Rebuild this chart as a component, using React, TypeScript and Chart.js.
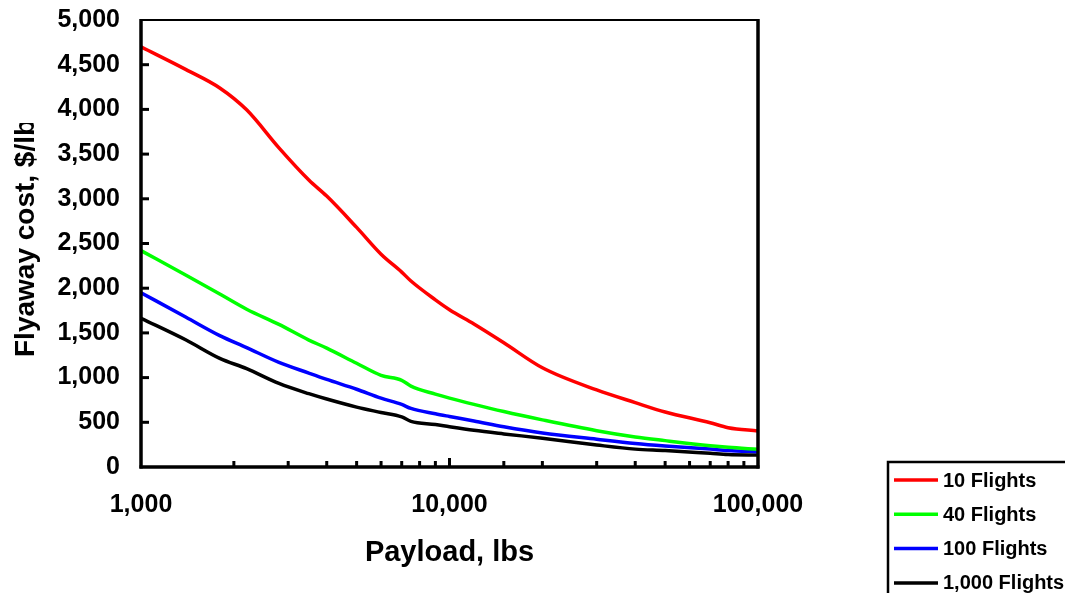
import React, { useEffect, useRef } from 'react';
import { Chart, registerables } from 'chart.js';

Chart.register(...registerables);

// Payload (lbs) sampled along each curve
const payloads = [1000, 1400, 1800, 2200, 2800, 3500, 4000, 5000, 6000, 7000, 7500, 9000, 10000, 12000, 15000, 20000, 30000, 40000, 50000, 70000, 80000, 100000];

// Flyaway cost, $/lb
const flights10 = [4700, 4445, 4240, 3995, 3570, 3210, 3030, 2680, 2380, 2180, 2080, 1870, 1760, 1600, 1390, 1110, 862, 720, 615, 495, 440, 403];
const flights40 = [2420, 2145, 1935, 1765, 1595, 1420, 1330, 1160, 1025, 970, 905, 815, 770, 700, 620, 527, 406, 336, 295, 238, 220, 198];
const flights100 = [1950, 1675, 1470, 1335, 1170, 1050, 980, 870, 770, 700, 655, 595, 565, 515, 450, 380, 310, 263, 235, 200, 185, 171];
const flights1000 = [1664, 1420, 1215, 1100, 935, 820, 760, 670, 610, 560, 510, 475, 450, 410, 370, 322, 246, 200, 185, 153, 140, 134];

const seriesLabels = ['10 Flights', '40 Flights', '100 Flights', '1,000 Flights'];
const seriesValues = [flights10, flights40, flights100, flights1000];
const seriesColors = ['#ff0000', '#00ff00', '#0000ff', '#000000'];

const xLabelValues = [1000, 10000, 100000];
const xTitle = 'Payload, lbs';
const yTitle = 'Flyaway cost, $/lb';

const FONT = "'Liberation Sans', Arial, Helvetica, sans-serif";

const overlayPlugin = {
  id: 'overlay',
  afterDraw(chart: any) {
    const { ctx, chartArea: a, scales } = chart;
    const xs = scales.x;
    const ys = scales.y;
    ctx.save();
    ctx.strokeStyle = '#000';
    ctx.fillStyle = '#000';
    ctx.lineCap = 'butt';

    const line = (x1: number, y1: number, x2: number, y2: number) => {
      ctx.beginPath();
      ctx.moveTo(x1, y1);
      ctx.lineTo(x2, y2);
      ctx.stroke();
    };

    // frame
    ctx.lineWidth = 2;
    line(a.left, a.top, a.right, a.top);
    ctx.lineWidth = 3.5;
    line(a.left, a.top - 1, a.left, a.bottom + 1.5);
    line(a.left - 1.5, a.bottom, a.right + 1.5, a.bottom);
    line(a.right, a.top - 1, a.right, a.bottom + 1.5);

    // inward ticks
    ctx.lineWidth = 3;
    ys.ticks.forEach((t: any) => {
      const py = ys.getPixelForValue(t.value);
      if (t.value > ys.min && t.value < ys.max) line(a.left, py, a.left + 8, py);
    });
    xs.ticks.forEach((t: any) => {
      const px = xs.getPixelForValue(t.value);
      if (t.value <= xs.min || t.value >= xs.max) return;
      const major = xLabelValues.includes(t.value);
      line(px, a.bottom, px, a.bottom - (major ? 9 : 6));
    });

    // x title
    ctx.font = `bold 29px ${FONT}`;
    ctx.textAlign = 'center';
    ctx.textBaseline = 'middle';
    ctx.fillText(xTitle, (a.left + a.right) / 2, 553);

    // y title (clipped at top like the reference)
    ctx.save();
    ctx.beginPath();
    ctx.rect(0, 123, 70, 400);
    ctx.clip();
    ctx.font = `bold 28px ${FONT}`;
    ctx.translate(26, 357);
    ctx.rotate(-Math.PI / 2);
    ctx.textAlign = 'left';
    ctx.textBaseline = 'middle';
    ctx.fillText(yTitle, 0, 0);
    ctx.restore();

    // legend
    const lx = 888;
    const ly = 462;
    ctx.lineWidth = 2.5;
    ctx.strokeStyle = '#000';
    ctx.strokeRect(lx, ly, 200, 200);
    ctx.font = `bold 20px ${FONT}`;
    ctx.textAlign = 'left';
    ctx.textBaseline = 'middle';
    chart.data.datasets.forEach((ds: any, i: number) => {
      const cy = 480 + i * 34.3;
      ctx.strokeStyle = ds.borderColor;
      ctx.lineWidth = 3.5;
      line(894, cy, 938, cy);
      ctx.fillStyle = '#000';
      ctx.fillText(ds.label, 943, cy + 1);
    });

    ctx.restore();
  },
};

export default function App() {
  const canvasRef = useRef<HTMLCanvasElement | null>(null);

  useEffect(() => {
    if (!canvasRef.current) return;
    const chart = new Chart(canvasRef.current, {
      type: 'line',
      data: {
        datasets: seriesValues.map((vals, i) => ({
          label: seriesLabels[i],
          data: payloads.map((p, j) => ({ x: p, y: vals[j] })),
          borderColor: seriesColors[i],
          backgroundColor: seriesColors[i],
          borderWidth: 3.5,
          pointRadius: 0,
          cubicInterpolationMode: 'monotone' as const,
          fill: false,
        })),
      },
      options: {
        animation: false,
        responsive: false,
        maintainAspectRatio: false,
        layout: { padding: { left: 0, right: 307, top: 20, bottom: 0 } },
        plugins: {
          legend: { display: false },
          tooltip: { enabled: false },
        },
        scales: {
          x: {
            type: 'logarithmic',
            min: 1000,
            max: 100000,
            grid: { display: false, drawTicks: false },
            border: { display: false },
            ticks: {
              autoSkip: false,
              maxRotation: 0,
              padding: 23,
              color: '#000',
              font: { family: FONT, size: 25, weight: 'bold' },
              callback: (v: any) => (xLabelValues.includes(Number(v)) ? Number(v).toLocaleString('en-US') : ''),
            },
            afterFit: (s: any) => {
              s.height = 126;
              s.paddingLeft = 0;
              s.paddingRight = 0;
            },
          },
          y: {
            min: 0,
            max: 5000,
            grid: { display: false, drawTicks: false },
            border: { display: false },
            ticks: {
              stepSize: 500,
              padding: 21,
              color: '#000',
              font: { family: FONT, size: 25, weight: 'bold' },
              callback: (v: any) => Number(v).toLocaleString('en-US'),
            },
            afterFit: (s: any) => {
              s.width = 141;
              s.paddingTop = 0;
              s.paddingBottom = 0;
            },
          },
        },
      },
      plugins: [overlayPlugin],
    });
    return () => chart.destroy();
  }, []);

  return (
    <div style={{ position: 'fixed', left: 0, top: 0, width: 1065, height: 593, background: '#fff' }}>
      <canvas ref={canvasRef} width={1065} height={593} style={{ display: 'block' }} />
    </div>
  );
}
